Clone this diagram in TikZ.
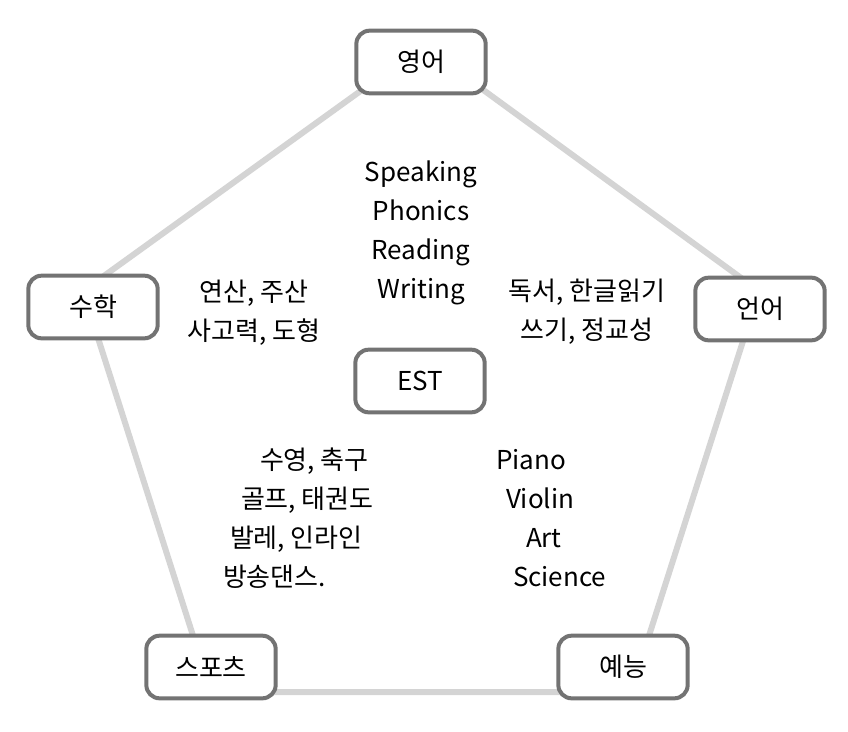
\documentclass[tikz,border=0pt]{standalone}
\usepackage{fontspec}
\setmainfont{Noto Sans CJK KR}
\usepackage{tikz}
\usetikzlibrary{
	backgrounds,
	}
\definecolor{boxgray}{HTML}{737373}
\definecolor{edgegray}{HTML}{D4D4D4}

\begin{document}
\begin{tikzpicture}[x=0.75pt,y=-0.75pt,
	topic/.style={draw=boxgray,line width=3pt,fill=white,shape=rectangle,rounded corners=10pt,minimum width=97pt,minimum height=47pt,inner sep=0pt,outer sep=0pt,font=\fontsize{19.5}{23}\selectfont},
	items/.style={inner sep=0pt,outer sep=0pt,font=\fontsize{19.5}{29.25}\selectfont}]
\useasboundingbox (0,0) rectangle (848,731);
\node[topic] (eng) at (421,62) {영어};
\node[topic] (math) at (93,307) {수학};
\node[topic] (lang) at (760,309) {언어};
\node[topic] (est) at (420,381) {EST};
\node[topic] (sport) at (211,667) {스포츠};
\node[topic] (arts) at (623,667) {예능};
% pentagon corners behind the boxes
\coordinate (c-eng) at (423,46);
\coordinate (c-lang) at (759,291);
\coordinate (c-arts) at (631,692);
\coordinate (c-sport) at (211,692);
\coordinate (c-math) at (83,291);
\node[items,align=center] (eng-items) at (421,233) {Speaking\\Phonics\\Reading\\Writing};
\node[items,align=center] (math-items) at (254,313) {연산, 주산\\사고력, 도형};
\node[items,align=center] (lang-items) at (587,312) {독서, 한글읽기\\쓰기, 정교성};
\node[items,align=left,anchor=west] (sport-items) at (223,518) {\hspace*{27.75pt}수영, 축구\\\hspace*{13.5pt}골프, 태권도\\\hspace*{5.25pt}발레, 인라인\\방송댄스.};
\node[items,align=left,anchor=west] (arts-items) at (496,518) {Piano\\\hspace*{7.5pt}Violin\\\hspace*{22.5pt}Art\\\hspace*{12.75pt}Science};
\begin{scope}[on background layer]
\draw[line width=4.5pt,edgegray] (c-eng) -- (c-lang) -- (c-arts) -- (c-sport) -- (c-math) -- cycle;
\end{scope}
\end{tikzpicture}
\end{document}
